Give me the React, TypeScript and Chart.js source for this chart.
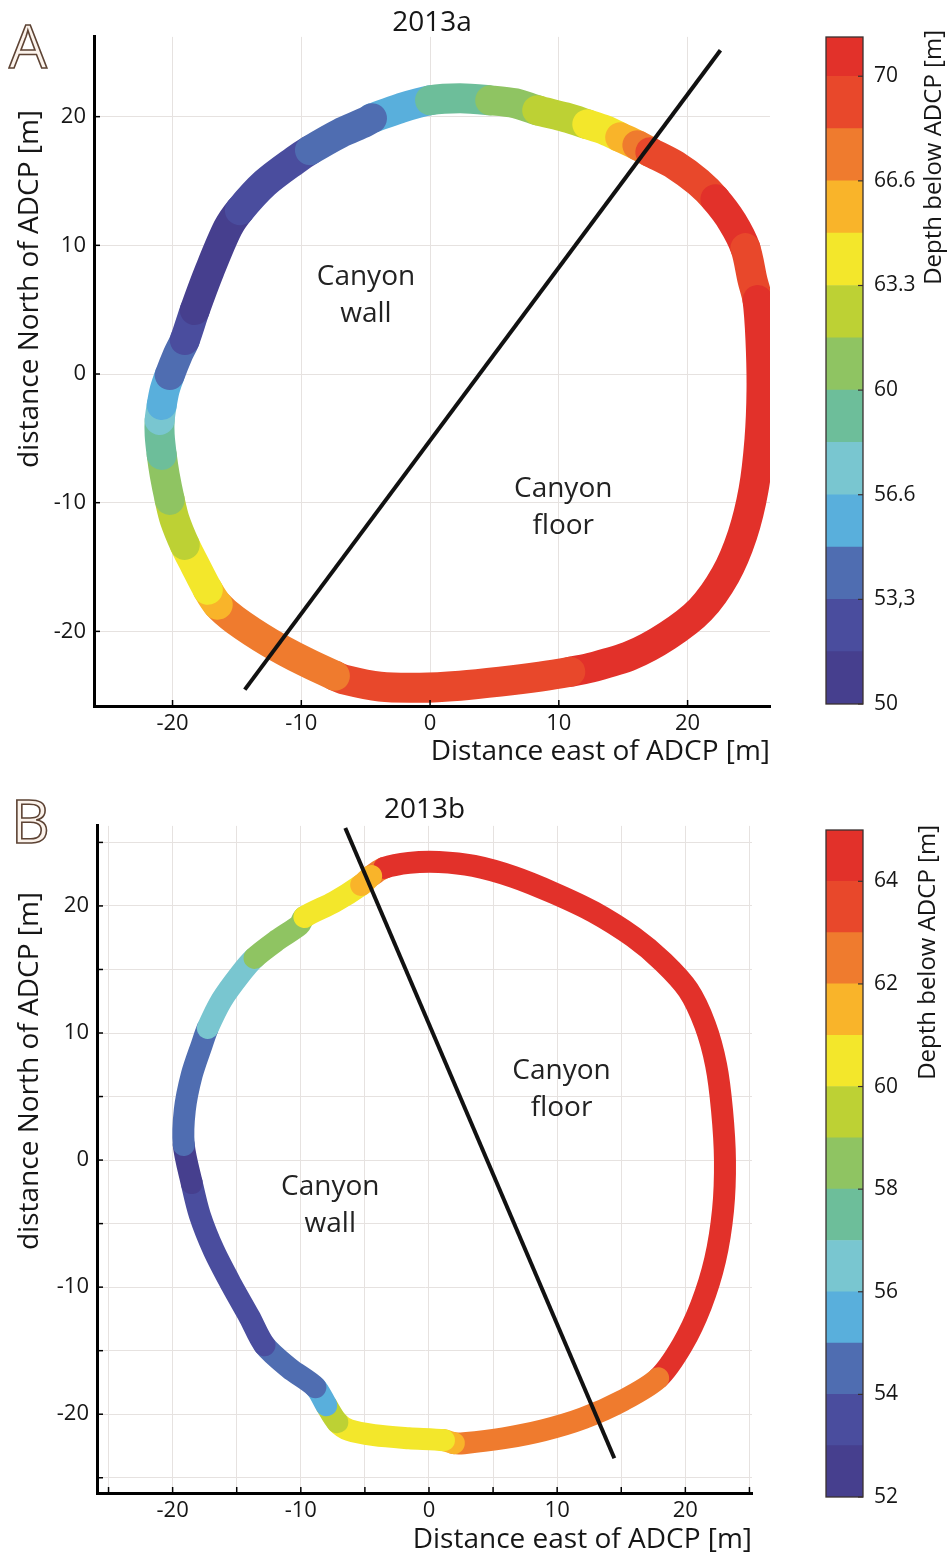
import React, { useEffect, useRef } from 'react';
import { Chart, registerables } from 'chart.js';

Chart.register(...registerables);

const FONT = "'Open Sans', 'Noto Sans', 'DejaVu Sans', sans-serif";
const INK = '#161616';

// colour bands of the depth colour bars (bottom to top)
const bandColors = ['#463f8e', '#4a4d9e', '#4f6db1', '#59afdc', '#79c6d0', '#6dbe9a', '#8fc462', '#bdd134', '#f3e72b', '#f9b42a', '#ef7b2e', '#e8482b', '#e2312a'];

const axisLabelTicks = [-20, -10, 0, 10, 20];

// ---------- Panel A (2013a) ----------
const aEast = [-4.51, -2.33, 0, 2.33, 4.67, 6.61, 8.32, 10.5, 12.21, 13.61, 14.77, 16.1, 17.11, 19.05, 20.84, 22.16, 23.48, 24.49, 25.04, 25.43, 25.66, 25.74, 25.58, 25.12, 24.26, 22.94, 21.0, 18.43, 15.55, 12.44, 10.89, 8.55, 5.44, 2.33, -0.78, -3.89, -6.61, -7.39, -9.72, -12.44, -15.16, -16.49, -17.26, -18.27, -19.05, -19.83, -20.22, -20.61, -20.84, -21.0, -21.0, -20.84, -20.61, -20.22, -19.6, -19.05, -18.27, -17.11, -15.71, -14.77, -12.83, -10.5, -9.33, -7.0, -5.05];
const aNorth = [19.88, 20.65, 21.27, 21.43, 21.27, 21.04, 20.5, 19.95, 19.41, 18.94, 18.4, 17.78, 17.24, 16.23, 14.91, 13.59, 11.81, 9.78, 7.3, 5.75, 2.64, -1.24, -5.12, -9.01, -12.5, -15.61, -18.32, -20.34, -21.89, -22.83, -23.14, -23.52, -23.91, -24.22, -24.38, -24.3, -23.76, -23.45, -22.36, -20.89, -19.1, -17.93, -16.77, -14.83, -13.28, -11.34, -9.78, -7.84, -6.29, -4.74, -3.57, -2.41, -1.24, -0.08, 1.48, 2.64, 4.97, 8.07, 11.34, 12.73, 14.83, 16.61, 17.39, 18.71, 19.57];
const aDepth = [55.8, 55.8, 59.2, 59.2, 60.8, 60.8, 62.5, 62.5, 64.2, 64.2, 65.8, 67.5, 69, 69, 69, 70.8, 70.8, 69, 69, 70.8, 70.8, 70.8, 70.8, 70.8, 70.8, 70.8, 70.8, 70.8, 70.8, 70.8, 69, 69, 69, 69, 69, 69, 69, 67.5, 67.5, 67.5, 67.5, 65.8, 64.2, 64.2, 62.5, 62.5, 60.8, 60.8, 59.2, 59.2, 57.5, 55.8, 55.8, 54, 54, 52.5, 51, 51, 51, 52.5, 52.5, 52.5, 54, 54, 54];
const aDividerEast = [-14.39, 22.55];
const aDividerNorth = [-24.53, 25.16];
const aGridTicks = [-20, -10, 0, 10, 20];
const aEastRange = [-26.1, 26.4];
const aNorthRange = [-25.8, 26.2];
const aBarRange = [50, 71.25];
const aBarStep = 5 / 3;
const aBarTicks = [50, 53.333, 56.667, 60, 63.333, 66.667, 70];
const aBarLabels = ['50', '53,3', '56.6', '60', '63.3', '66.6', '70'];
const aRegions = [
  { lines: ['Canyon', 'wall'], east: -4.98, north: 6.13 },
  { lines: ['Canyon', 'floor'], east: 10.34, north: -10.4 },
];

// ---------- Panel B (2013b) ----------
const bEast = [-4.51, -3.5, -1.56, 0.78, 3.5, 6.61, 9.72, 12.83, 15.94, 18.27, 20.22, 21.54, 22.4, 22.86, 23.09, 22.94, 22.32, 21.23, 19.75, 17.88, 15.16, 12.05, 8.94, 5.83, 2.72, 1.94, 1.17, -1.56, -4.28, -6.22, -7.15, -8.01, -8.86, -10.89, -12.83, -14.0, -15.4, -16.8, -17.88, -18.51, -19.13, -19.05, -18.51, -17.73, -17.26, -16.17, -14.77, -13.61, -11.82, -10.11, -9.72, -7.39, -5.29];
const bNorth = [22.36, 22.99, 23.39, 23.46, 23.15, 22.28, 21.02, 19.53, 17.56, 15.59, 13.39, 10.63, 7.48, 3.94, 0, -3.94, -7.87, -11.42, -14.57, -17.17, -18.9, -20.31, -21.26, -21.89, -22.28, -22.28, -22.05, -21.89, -21.65, -21.26, -20.63, -19.29, -17.87, -16.38, -14.57, -12.36, -9.84, -7.09, -4.33, -1.81, 1.18, 3.94, 6.69, 9.06, 10.39, 12.6, 14.57, 15.91, 17.32, 18.5, 19.13, 20.31, 21.65];
const bDepth = [62.5, 64.5, 64.5, 64.5, 64.5, 64.5, 64.5, 64.5, 64.5, 64.5, 64.5, 64.5, 64.5, 64.5, 64.5, 64.5, 64.5, 64.5, 64.5, 62.5, 62.5, 62.5, 62.5, 62.5, 62.5, 61.5, 60.5, 60.5, 60.5, 60.5, 59.5, 55.5, 54.5, 54.5, 53.5, 53.5, 53.5, 53.5, 53.5, 52.5, 54.5, 54.5, 54.5, 54.5, 56.5, 56.5, 56.5, 58.5, 58.5, 58.5, 60.5, 60.5, 61.5];
const bDividerEast = [-6.53, 14.46];
const bDividerNorth = [26.14, -23.46];
const bGridTicks = [-25, -20, -15, -10, -5, 0, 5, 10, 15, 20, 25];
const bEastRange = [-25.9, 25.2];
const bNorthRange = [-26.2, 26.3];
const bBarRange = [52, 65];
const bBarStep = 1;
const bBarTicks = [52, 54, 56, 58, 60, 62, 64];
const bBarLabels = ['52', '54', '56', '58', '60', '62', '64'];
const bRegions = [
  { lines: ['Canyon', 'floor'], east: 10.34, north: 5.55 },
  { lines: ['Canyon', 'wall'], east: -7.7, north: -3.58 },
];

function bandColor(v: number, min: number, step: number) {
  const i = Math.max(0, Math.min(bandColors.length - 1, Math.floor((v - min) / step)));
  return bandColors[i];
}

type TrackProps = {
  title: string;
  east: number[];
  north: number[];
  depth: number[];
  dividerEast: number[];
  dividerNorth: number[];
  gridTicks: number[];
  eastRange: number[];
  northRange: number[];
  barMin: number;
  barStep: number;
  regions: { lines: string[]; east: number; north: number }[];
  lineWidth: number;
  yAxisW: number;
  xAxisH: number;
  padRight: number;
  titlePadTop: number;
  titlePadBottom: number;
  xTitlePadBottom: number;
  yTitleX: number;
  yTitleTop: number;
};

function trackConfig(p: TrackProps): any {
  const pts = p.east.map((e, i) => ({ x: e, y: p.north[i] }));
  pts.push({ ...pts[0] });
  const dep = [...p.depth, p.depth[0]];
  const col = (v: number) => bandColor(v, p.barMin, p.barStep);

  const innerTicks = {
    id: 'innerTicks',
    afterDraw(chart: any) {
      const { ctx, chartArea, scales } = chart;
      ctx.save();
      ctx.strokeStyle = '#000';
      ctx.lineWidth = 1.5;
      for (const t of scales.x.ticks) {
        const px = scales.x.getPixelForValue(t.value);
        ctx.beginPath();
        ctx.moveTo(px, chartArea.bottom);
        ctx.lineTo(px, chartArea.bottom - 6);
        ctx.stroke();
      }
      for (const t of scales.y.ticks) {
        const py = scales.y.getPixelForValue(t.value);
        ctx.beginPath();
        ctx.moveTo(chartArea.left, py);
        ctx.lineTo(chartArea.left + 6, py);
        ctx.stroke();
      }
      // y axis title, reading bottom to top
      ctx.translate(p.yTitleX, p.yTitleTop);
      ctx.rotate(-Math.PI / 2);
      ctx.font = `28px ${FONT}`;
      ctx.fillStyle = INK;
      ctx.textAlign = 'right';
      ctx.textBaseline = 'middle';
      ctx.fillText('distance North of ADCP [m]', 0, 0);
      ctx.restore();
    },
  };

  const regionText = {
    id: 'regionText',
    afterDatasetsDraw(chart: any) {
      const { ctx, scales } = chart;
      ctx.save();
      ctx.font = `28px ${FONT}`;
      ctx.fillStyle = '#222';
      ctx.textAlign = 'center';
      ctx.textBaseline = 'middle';
      for (const r of p.regions) {
        const px = scales.x.getPixelForValue(r.east);
        const py = scales.y.getPixelForValue(r.north);
        r.lines.forEach((ln, i) => {
          ctx.fillText(ln, px, py + (i - (r.lines.length - 1) / 2) * 37);
        });
      }
      ctx.restore();
    },
  };

  const tickFont = { family: FONT, size: 22 };

  return {
    type: 'scatter',
    data: {
      datasets: [
        {
          data: p.dividerEast.map((e, i) => ({ x: e, y: p.dividerNorth[i] })),
          showLine: true,
          borderColor: '#111',
          borderWidth: 4,
          pointRadius: 0,
        },
        {
          data: pts,
          showLine: true,
          borderWidth: p.lineWidth,
          pointRadius: 0,
          tension: 0.3,
          borderCapStyle: 'round',
          borderJoinStyle: 'round',
          borderColor: col(dep[0]),
          segment: {
            borderColor: (ctx: any) => col(dep[ctx.p0DataIndex]),
          },
        },
      ],
    },
    options: {
      animation: false,
      responsive: false,
      maintainAspectRatio: false,
      layout: { padding: { left: 0, right: p.padRight, top: 0, bottom: 0 } },
      plugins: {
        legend: { display: false },
        tooltip: { enabled: false },
        title: {
          display: true,
          fullSize: false,
          text: p.title,
          color: INK,
          font: { family: FONT, size: 28, weight: 'normal', lineHeight: 0.96 },
          padding: { top: p.titlePadTop, bottom: p.titlePadBottom },
        },
      },
      scales: {
        x: {
          type: 'linear',
          min: p.eastRange[0],
          max: p.eastRange[1],
          afterBuildTicks: (ax: any) => {
            ax.ticks = p.gridTicks.map((v) => ({ value: v }));
          },
          afterFit: (s: any) => {
            s.height = p.xAxisH;
          },
          grid: { color: '#e6e2e0', lineWidth: 1, drawTicks: false },
          border: { display: true, color: '#000', width: 3 },
          ticks: {
            autoSkip: false,
            maxRotation: 0,
            padding: 5,
            color: INK,
            font: tickFont,
            callback: (v: number) => (axisLabelTicks.includes(v) ? String(v) : ''),
          },
          title: {
            display: true,
            text: 'Distance east of ADCP [m]',
            align: 'end',
            color: INK,
            font: { family: FONT, size: 28 },
            padding: { top: 0, bottom: p.xTitlePadBottom },
          },
        },
        y: {
          type: 'linear',
          min: p.northRange[0],
          max: p.northRange[1],
          afterBuildTicks: (ax: any) => {
            ax.ticks = p.gridTicks.map((v) => ({ value: v }));
          },
          afterFit: (s: any) => {
            s.width = p.yAxisW;
          },
          grid: { color: '#e6e2e0', lineWidth: 1, drawTicks: false },
          border: { display: true, color: '#000', width: 3 },
          ticks: {
            autoSkip: false,
            padding: 8,
            color: INK,
            font: tickFont,
            callback: (v: number) => (axisLabelTicks.includes(v) ? String(v) : ''),
          },
        },
      },
    },
    plugins: [innerTicks, regionText],
  };
}

type BarProps = {
  min: number;
  max: number;
  step: number;
  ticks: number[];
  labels: string[];
  padLeft: number;
  padTop: number;
  padBottom: number;
  axisW: number;
  titleX: number;
  titleTop: number;
};

function barConfig(p: BarProps): any {
  const datasets = bandColors.map((c, i) => ({
    data: [[p.min + i * p.step, Math.min(p.max, p.min + (i + 1) * p.step)]],
    backgroundColor: c,
    borderWidth: 0,
    grouped: false,
    barPercentage: 1,
    categoryPercentage: 1,
  }));
  const frame = {
    id: 'frame',
    afterDraw(chart: any) {
      const { ctx, chartArea, scales } = chart;
      ctx.save();
      ctx.strokeStyle = '#3a3030';
      ctx.lineWidth = 1.3;
      ctx.strokeRect(chartArea.left, chartArea.top, chartArea.right - chartArea.left, chartArea.bottom - chartArea.top);
      ctx.lineWidth = 1.2;
      for (const t of scales.y.ticks) {
        const py = scales.y.getPixelForValue(t.value);
        ctx.beginPath();
        ctx.moveTo(chartArea.right - 5, py);
        ctx.lineTo(chartArea.right, py);
        ctx.stroke();
      }
      ctx.translate(p.titleX, p.titleTop);
      ctx.rotate(-Math.PI / 2);
      ctx.font = `24px ${FONT}`;
      ctx.fillStyle = INK;
      ctx.textAlign = 'right';
      ctx.textBaseline = 'middle';
      ctx.fillText('Depth below ADCP [m]', 0, 0);
      ctx.restore();
    },
  };
  return {
    type: 'bar',
    data: { labels: ['depth'], datasets },
    options: {
      animation: false,
      responsive: false,
      maintainAspectRatio: false,
      layout: { padding: { left: p.padLeft, top: p.padTop, bottom: p.padBottom, right: 0 } },
      plugins: { legend: { display: false }, tooltip: { enabled: false } },
      scales: {
        x: { display: false },
        y: {
          position: 'right',
          min: p.min,
          max: p.max,
          afterBuildTicks: (ax: any) => {
            ax.ticks = p.ticks.map((v) => ({ value: v }));
          },
          afterFit: (s: any) => {
            s.width = p.axisW;
          },
          grid: { display: false },
          border: { display: false },
          ticks: {
            padding: 3,
            color: INK,
            font: { family: FONT, size: 21 },
            callback: (_v: number, i: number) => p.labels[i],
          },
        },
      },
    },
    plugins: [frame],
  };
}

function ChartCanvas({ make, left, top, width, height }: { make: () => any; left: number; top: number; width: number; height: number }) {
  const ref = useRef<HTMLCanvasElement>(null);
  useEffect(() => {
    const chart = new Chart(ref.current as HTMLCanvasElement, make());
    return () => chart.destroy();
  }, []);
  return <canvas ref={ref} width={width} height={height} style={{ position: 'absolute', left, top, width, height }} />;
}

const letterStyle: React.CSSProperties = {
  position: 'absolute',
  fontFamily: FONT,
  fontSize: 60,
  lineHeight: '60px',
  color: '#fbf3ec',
  WebkitTextStroke: '1.6px #5d4334',
  fontWeight: 400,
};

export default function App() {
  return (
    <div style={{ position: 'absolute', left: 0, top: 0, width: 947, height: 1558, background: '#fff', overflow: 'hidden' }}>
      <ChartCanvas
        left={0}
        top={0}
        width={800}
        height={775}
        make={() =>
          trackConfig({
            title: '2013a',
            east: aEast,
            north: aNorth,
            depth: aDepth,
            dividerEast: aDividerEast,
            dividerNorth: aDividerNorth,
            gridTicks: aGridTicks,
            eastRange: aEastRange,
            northRange: aNorthRange,
            barMin: aBarRange[0],
            barStep: aBarStep,
            regions: aRegions,
            lineWidth: 30,
            yAxisW: 94,
            xAxisH: 69,
            padRight: 30,
            titlePadTop: 10,
            titlePadBottom: 0,
            xTitlePadBottom: 6,
            yTitleX: 30,
            yTitleTop: 110,
          })
        }
      />
      <ChartCanvas
        left={815}
        top={0}
        width={132}
        height={775}
        make={() =>
          barConfig({
            min: aBarRange[0],
            max: aBarRange[1],
            step: aBarStep,
            ticks: aBarTicks,
            labels: aBarLabels,
            padLeft: 11,
            padTop: 37,
            padBottom: 71,
            axisW: 84,
            titleX: 119,
            titleTop: 30,
          })
        }
      />
      <ChartCanvas
        left={0}
        top={785}
        width={800}
        height={773}
        make={() =>
          trackConfig({
            title: '2013b',
            east: bEast,
            north: bNorth,
            depth: bDepth,
            dividerEast: bDividerEast,
            dividerNorth: bDividerNorth,
            gridTicks: bGridTicks,
            eastRange: bEastRange,
            northRange: bNorthRange,
            barMin: bBarRange[0],
            barStep: bBarStep,
            regions: bRegions,
            lineWidth: 22,
            yAxisW: 97,
            xAxisH: 65,
            padRight: 48,
            titlePadTop: 12,
            titlePadBottom: 2,
            xTitlePadBottom: 1,
            yTitleX: 30,
            yTitleTop: 107,
          })
        }
      />
      <ChartCanvas
        left={815}
        top={785}
        width={132}
        height={773}
        make={() =>
          barConfig({
            min: bBarRange[0],
            max: bBarRange[1],
            step: bBarStep,
            ticks: bBarTicks,
            labels: bBarLabels,
            padLeft: 11,
            padTop: 45,
            padBottom: 61,
            axisW: 84,
            titleX: 113,
            titleTop: 40,
          })
        }
      />
      <div style={{ ...letterStyle, left: 9, top: 15 }}>A</div>
      <div style={{ ...letterStyle, left: 11, top: 790 }}>B</div>
    </div>
  );
}
